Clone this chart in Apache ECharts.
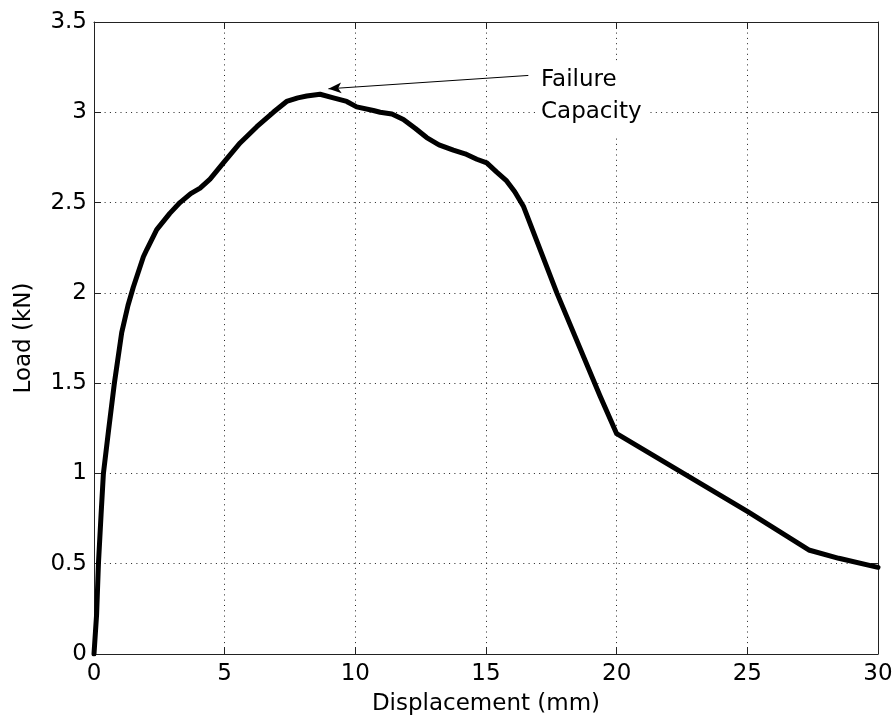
<!DOCTYPE html>
<html>
<head>
<meta charset="utf-8">
<script src="https://cdn.jsdelivr.net/npm/echarts@6/dist/echarts.min.js"></script>
<style>
html,body{margin:0;padding:0;background:#fff;}
#chart{width:896px;height:721px;}
</style>
</head>
<body>
<div id="chart"></div>
<script>
// Displacement (mm)
var displacement = [0, 0.1, 0.17, 0.27, 0.36, 0.55, 0.78, 1.06, 1.30, 1.50, 1.89, 2.02, 2.40, 2.90, 3.29, 3.70, 4.06, 4.44, 4.95, 5.59, 6.23, 6.86, 7.37, 7.80, 8.14, 8.65, 9.16, 9.67, 10.05, 10.69, 10.95, 11.40, 11.84, 12.30, 12.73, 13.20, 13.75, 14.20, 14.65, 15.03, 15.40, 15.79, 16.10, 16.43, 17.71, 19.36, 20.00, 25.00, 27.35, 28.50, 30.00];
// Load (kN)
var load = [0, 0.22, 0.50, 0.77, 1.00, 1.23, 1.50, 1.78, 1.93, 2.03, 2.20, 2.24, 2.35, 2.44, 2.50, 2.55, 2.58, 2.63, 2.72, 2.83, 2.92, 3.00, 3.06, 3.08, 3.09, 3.10, 3.08, 3.06, 3.03, 3.01, 3.00, 2.99, 2.96, 2.91, 2.86, 2.82, 2.79, 2.77, 2.74, 2.72, 2.67, 2.62, 2.56, 2.48, 2.00, 1.43, 1.22, 0.79, 0.576, 0.53, 0.48];
var xTicks = [0, 5, 10, 15, 20, 25, 30];
var yTicks = [0, 0.5, 1, 1.5, 2, 2.5, 3, 3.5];
var annotationText = ['Failure', 'Capacity'];
var arrowFrom = [16.62, 3.204];
var arrowTo = [8.97, 3.13];

var FONT = 'DejaVu Sans';
var pts = displacement.map(function (x, i) { return [x, load[i]]; });

var chart = echarts.init(document.getElementById('chart'), null, {renderer: 'canvas'});
var gridDash = {color: '#222', width: 1, type: [1, 4.3]};
var axisLineStyle = {color: '#222', width: 1};
var option = {
  animation: false,
  backgroundColor: '#fff',
  grid: {left: 94, right: 18, top: 22, bottom: 65, containLabel: false},
  xAxis: [{
    type: 'value', min: xTicks[0], max: xTicks[xTicks.length - 1], interval: 5,
    position: 'bottom',
    name: 'Displacement (mm)', nameLocation: 'middle', nameGap: 39,
    nameTextStyle: {fontFamily: FONT, fontSize: 23, color: '#000'},
    axisLine: {show: true, onZero: false, lineStyle: axisLineStyle},
    axisTick: {show: true, inside: true, length: 7, lineStyle: axisLineStyle},
    axisLabel: {show: true, margin: 9, fontFamily: FONT, fontSize: 23, color: '#000'},
    splitLine: {show: true, lineStyle: gridDash}
  }, {
    type: 'value', min: xTicks[0], max: xTicks[xTicks.length - 1], interval: 5,
    position: 'top',
    axisLine: {show: true, onZero: false, lineStyle: axisLineStyle},
    axisTick: {show: true, inside: true, length: 7, lineStyle: axisLineStyle},
    axisLabel: {show: false},
    splitLine: {show: false}
  }],
  yAxis: [{
    type: 'value', min: yTicks[0], max: yTicks[yTicks.length - 1], interval: 0.5,
    position: 'left',
    name: 'Load (kN)', nameLocation: 'middle', nameGap: 58, nameRotate: 90,
    nameTextStyle: {fontFamily: FONT, fontSize: 23, color: '#000'},
    axisLine: {show: true, onZero: false, lineStyle: axisLineStyle},
    axisTick: {show: true, inside: true, length: 7, lineStyle: axisLineStyle},
    axisLabel: {show: true, margin: 7, fontFamily: FONT, fontSize: 23, color: '#000'},
    splitLine: {show: true, lineStyle: gridDash}
  }, {
    type: 'value', min: yTicks[0], max: yTicks[yTicks.length - 1], interval: 0.5,
    position: 'right',
    axisLine: {show: true, onZero: false, lineStyle: axisLineStyle},
    axisTick: {show: true, inside: true, length: 7, lineStyle: axisLineStyle},
    axisLabel: {show: false},
    splitLine: {show: false}
  }],
  series: [{
    type: 'line',
    xAxisIndex: 0, yAxisIndex: 0,
    data: pts,
    showSymbol: false,
    symbol: 'none',
    smooth: false,
    lineStyle: {color: '#000', width: 5, join: 'round', cap: 'round'},
    z: 5,
    markLine: {
      silent: true,
      animation: false,
      label: {show: false},
      lineStyle: {color: '#000', width: 1, type: 'solid'},
      data: [[
        {coord: arrowFrom, symbol: 'none'},
        {coord: arrowTo, symbol: 'arrow', symbolSize: [8, 13]}
      ]]
    }
  }],
  graphic: [{
    type: 'text',
    left: 538,
    top: 62,
    z: 100,
    style: {
      text: annotationText.join('\n'),
      font: '23px "DejaVu Sans"',
      fill: '#000',
      lineHeight: 32,
      backgroundColor: '#fff',
      padding: [2, 8, 7, 3]
    }
  }]
};
chart.setOption(option);
</script>
</body>
</html>
